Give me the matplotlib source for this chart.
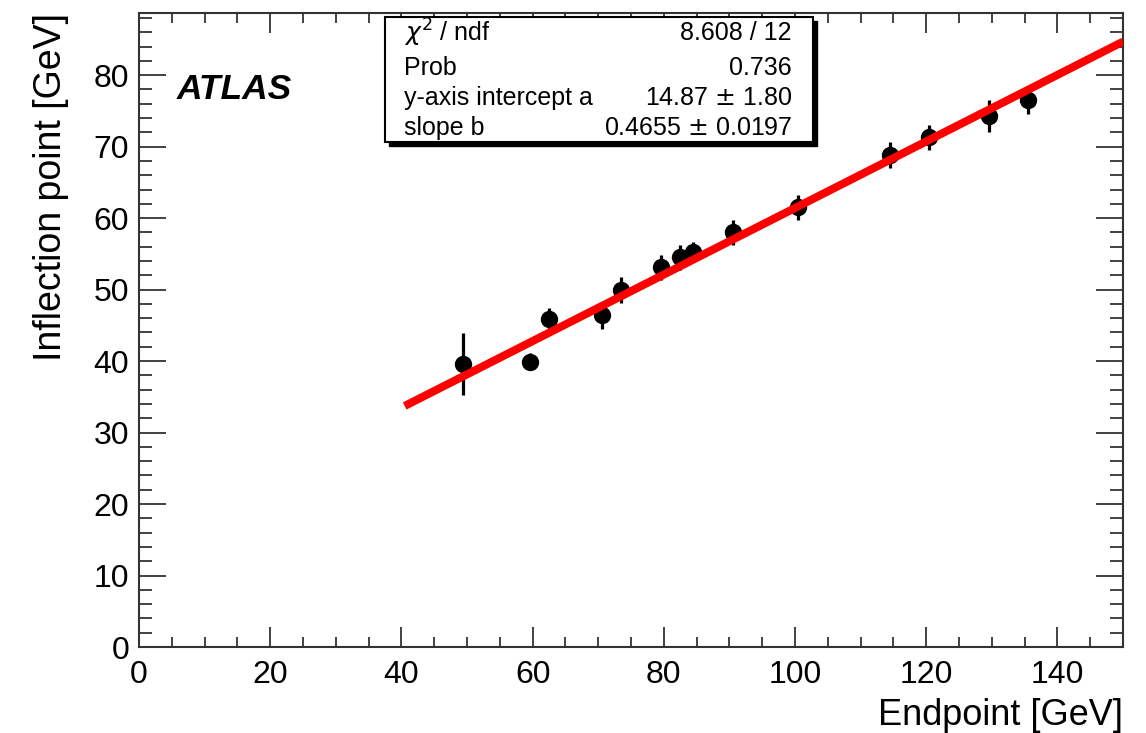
import matplotlib
matplotlib.use("Agg")
import numpy as np
import matplotlib.pyplot as plt
from matplotlib.patches import Rectangle

plt.rcParams['font.family'] = ['Liberation Sans', 'DejaVu Sans']
plt.rcParams['mathtext.fontset'] = 'dejavusans'

# measured endpoints vs. inflection points
endpoint = [49.4, 59.6, 62.5, 70.6, 73.5, 79.6, 82.5, 84.5, 90.5, 100.5, 114.5, 120.4, 129.6, 135.5]
inflection = [39.6, 39.9, 45.9, 46.4, 49.9, 53.1, 54.5, 55.2, 58.0, 61.5, 68.8, 71.3, 74.3, 76.5]
inflection_err = [4.3, 1.2, 1.5, 1.9, 1.8, 1.7, 1.8, 1.4, 1.8, 1.75, 1.85, 1.7, 2.2, 2.0]

# linear fit result
fit_a = 14.87
fit_a_err = 1.80
fit_b = 0.4655
fit_b_err = 0.0197
chi2 = 8.608
ndf = 12
prob = 0.736
fit_range = (40.5, 150.0)

fig = plt.figure(figsize=(11.46, 7.33), dpi=100)
ax = fig.add_axes([0.1213, 0.1173, 0.8587, 0.865])

ax.errorbar(endpoint, inflection, yerr=inflection_err, fmt='o', color='black',
            markersize=11.5, elinewidth=2.3, capsize=0, zorder=3)

xf = np.linspace(fit_range[0], fit_range[1], 200)
ax.plot(xf, fit_a + fit_b * xf, color='#ff0000', linewidth=5.8, zorder=4,
        solid_capstyle='butt')

ax.set_xlim(0, 150)
ax.set_ylim(0, 88.7)
ax.set_xticks(np.arange(0, 141, 20))
ax.set_xticks(np.arange(0, 151, 5), minor=True)
ax.set_yticks(np.arange(0, 81, 10))
ax.set_yticks(np.arange(0, 89, 2), minor=True)

ax.tick_params(which='both', direction='in', top=True, right=True,
               labelsize=23, color='#333333', width=1.3)
ax.tick_params(axis='x', which='major', length=14.5, pad=9)
ax.tick_params(axis='x', which='minor', length=7.2)
ax.tick_params(axis='y', which='major', length=19.5, pad=7)
ax.tick_params(axis='y', which='minor', length=9.7)
for s in ax.spines.values():
    s.set_linewidth(1.5)
    s.set_color('#333333')

ax.set_xlabel('Endpoint [GeV]', loc='right', fontsize=26, labelpad=6)
ax.set_ylabel('Inflection point [GeV]', loc='top', fontsize=27, labelpad=18)

ax.text(0.038, 0.88, 'ATLAS', transform=ax.transAxes, fontsize=25.5,
        fontweight='bold', fontstyle='italic', va='center', ha='left')

# fit statistics box
bx0, by0, bw, bh = 385 / 1146, 1 - 142 / 733, 428 / 1146, 125 / 733
dx, dy = 4 / 1146, 4 / 733
fig.patches.append(Rectangle((bx0 + dx, by0 - dy), bw, bh, transform=fig.transFigure,
                             facecolor='black', edgecolor='black', zorder=5))
fig.patches.append(Rectangle((bx0, by0), bw, bh, transform=fig.transFigure,
                             facecolor='white', edgecolor='black', linewidth=1.5, zorder=6))
rows = [
    (r'$\chi^2$ / ndf', f'{chi2:.3f} / {ndf}'),
    ('Prob', f'{prob:.3f}'),
    ('y-axis intercept a', f'{fit_a:.2f} $\\pm$ {fit_a_err:.2f}'),
    ('slope b', f'{fit_b:.4f} $\\pm$ {fit_b_err:.4f}'),
]
row_y = [33, 68, 98, 128]
for (left, right), yp in zip(rows, row_y):
    fig.text(404 / 1146, 1 - yp / 733, left, fontsize=18, ha='left', va='center', zorder=7)
    fig.text(792 / 1146, 1 - yp / 733, right, fontsize=18, ha='right', va='center', zorder=7)

fig.savefig('out.png', dpi=100)
